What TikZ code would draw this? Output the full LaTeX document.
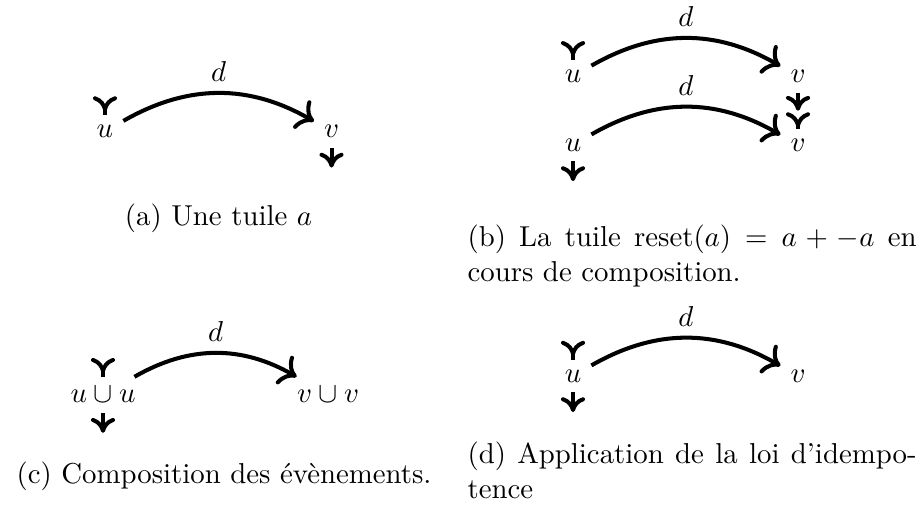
\documentclass[tikz,border=0pt]{standalone}
\usepackage{fontspec}
\usepackage{amsmath}
\usepackage{tikz}
\usetikzlibrary{arrows.meta}
\begin{document}
\begin{tikzpicture}[>={To[scale=1.15]},
  fleche/.style={->,line width=1.4pt},
  entree/.style={-{To[reversed,scale=1.1,scale width=0.85]},line width=1.4pt},
  sortie/.style={-{To[scale=1.1,scale width=0.85]},line width=1.4pt},
  legende/.style={inner sep=0pt,text width=5.48cm,align=justify,anchor=north west}]
\useasboundingbox (0,0) rectangle (11.203,-6.297);
\begin{scope}
\node (ua) at (1.281,-1.605) {$u$};
\node (va) at (4.046,-1.605) {$v$};
\draw[fleche] (ua) to[bend left] node[above] {$d$} (va);
\draw[entree] (ua.north) -- ++(0,0.23);
\draw[sortie] (va.south) -- ++(0,-0.24);
\node[anchor=base] (capa) at (2.667,-2.746) {(a) Une tuile $a$};
\end{scope}
\begin{scope}
\node (ub) at (6.993,-0.931) {$u$};
\node (vb) at (9.739,-0.931) {$v$};
\node (ubb) at (6.993,-1.770) {$u$};
\node (vbb) at (9.739,-1.770) {$v$};
\draw[fleche] (ub) to[bend left] node[above] {$d$} (vb);
\draw[fleche] (ubb) to[bend left] node[above] {$d$} (vbb);
\draw[entree] (ub.north) -- ++(0,0.23);
\draw[sortie] (vb.south) -- ++(0,-0.22);
\draw[entree] (vbb.north) -- ++(0,0.2);
\draw[sortie] (ubb.south) -- ++(0,-0.24);
\node[legende] (capb) at (5.699,-2.739) {(b) La tuile $\mathrm{reset}(a) = a + -a$ en cours de composition.};
\end{scope}
\begin{scope}
\node (uc) at (1.257,-4.820) {$u \cup u$};
\node (vc) at (4.003,-4.820) {$v \cup v$};
\draw[fleche] (uc) to[bend left] node[above] {$d$} (vc);
\draw[entree] (uc.north) -- ++(0,0.23);
\draw[sortie] (uc.south) -- ++(0,-0.24);
\node[anchor=base] (capc) at (2.734,-5.895) {(c) Composition des évènements.};
\end{scope}
\begin{scope}
\node (ud) at (6.993,-4.589) {$u$};
\node (vd) at (9.739,-4.589) {$v$};
\draw[fleche] (ud) to[bend left] node[above] {$d$} (vd);
\draw[entree] (ud.north) -- ++(0,0.23);
\draw[sortie] (ud.south) -- ++(0,-0.24);
\node[legende] (capd) at (5.699,-5.387) {(d) Application de la loi d'idempo\-tence};
\end{scope}
\end{tikzpicture}
\end{document}
